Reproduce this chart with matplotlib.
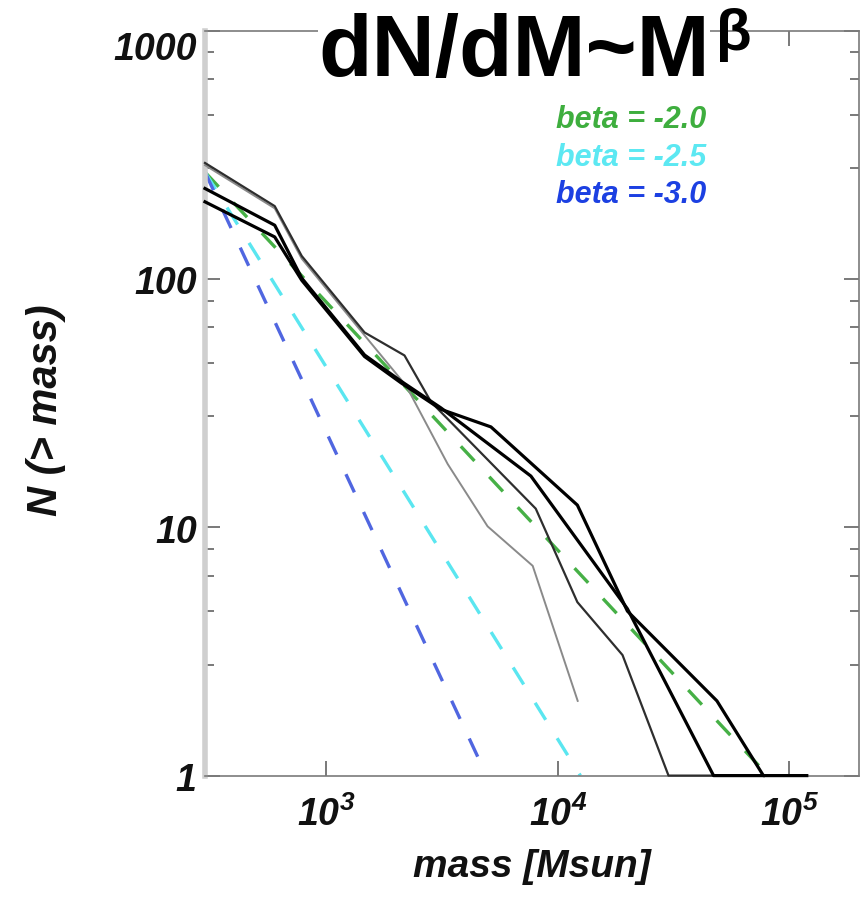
import matplotlib
matplotlib.use("Agg")
import matplotlib.pyplot as plt
from matplotlib.ticker import FixedLocator, NullLocator, NullFormatter

plt.rcParams['font.family'] = ['Liberation Sans', 'DejaVu Sans']
plt.rcParams['mathtext.fontset'] = 'custom'
plt.rcParams['mathtext.bf'] = 'Liberation Sans:italic:bold'
plt.rcParams['mathtext.rm'] = 'Liberation Sans:italic:bold'

# Cumulative clump mass functions N(>M), four samples
mass_a = [300, 600, 785, 1466, 2217, 3350, 4980, 7800, 12200]
count_a = [288, 193, 121, 59.4, 37.2, 18.0, 10.1, 7.0, 2.0]

mass_b = [300, 600, 785, 1466, 2180, 2840, 8040, 12160, 19050, 30100, 47100]
count_b = [294, 197, 124, 61.0, 49.3, 32.0, 11.9, 5.0, 3.06, 1.0, 1.0]

mass_c = [300, 600, 785, 1466, 2109, 3133, 7660, 20000, 47100, 77300]
count_c = [232, 165, 101, 49.5, 38.8, 30.3, 16.1, 4.7, 1.0, 1.0]

mass_d = [300, 600, 785, 1466, 2109, 3133, 5150, 12160, 20000, 48700, 77300, 119000]
count_d = [205, 148, 99, 48.8, 38.2, 29.9, 25.4, 12.3, 4.6, 2.0, 1.0, 1.0]

# Power-law reference slopes dN/dM ~ M^beta, normalised at the low-mass end
betas = [-2.0, -2.5, -3.0]
beta_labels = ["beta = -2.0", "beta = -2.5", "beta = -3.0"]
beta_colors = ["#46b046", "#5ae6f0", "#5066e0"]
beta_text_colors = ["#3eae3e", "#5ce8f2", "#1c40e2"]
norm_mass = 300.0
norm_count = 270.0

y_major = [1, 10, 100, 1000]
y_major_labels = ["1", "10", "100", "1000"]
x_major = [1e3, 1e4, 1e5]
x_major_labels = [r"$\mathbf{10^{3}}$", r"$\mathbf{10^{4}}$", r"$\mathbf{10^{5}}$"]
y_minor = [m * d for d in (1, 10, 100) for m in (2.8, 4.6, 6.4, 8.2)]

W, H = 863, 904
fig = plt.figure(figsize=(W / 100, H / 100), dpi=100)
ax = fig.add_axes([205 / W, 1 - 776.6 / H, (859 - 205) / W, (776.6 - 32) / H])
ax.set_xscale('log')
ax.set_yscale('log')
ax.set_xlim(300, 2e5)
ax.set_ylim(1, 1000)

# reference power laws
for beta, col in zip(betas, beta_colors):
    m_end = norm_mass * norm_count ** (-1.0 / (beta + 1.0))
    ax.plot([norm_mass, m_end], [norm_count, 1.0], color=col, lw=2.4,
            dashes=(6, 6.5), zorder=2)

# mass functions
ax.plot(mass_a, count_a, color='#8a8a8a', lw=1.4, zorder=3, clip_on=False)
ax.plot(mass_b, count_b, color='#2e2e2e', lw=1.6, zorder=3, clip_on=False)
ax.plot(mass_c, count_c, color='#000000', lw=2.3, zorder=4, clip_on=False)
ax.plot(mass_d, count_d, color='#000000', lw=2.3, zorder=4, clip_on=False)

# axes frame
for side in ('top', 'right', 'bottom'):
    ax.spines[side].set_color('#7a7a7a')
    ax.spines[side].set_linewidth(1.2)
ax.spines['left'].set_color('#cfcfcf')
ax.spines['left'].set_linewidth(4)

ax.xaxis.set_major_locator(FixedLocator(x_major))
ax.xaxis.set_minor_locator(NullLocator())
ax.yaxis.set_major_locator(FixedLocator(y_major))
ax.yaxis.set_minor_locator(FixedLocator(y_minor))
ax.xaxis.set_major_formatter(NullFormatter())
ax.yaxis.set_major_formatter(NullFormatter())
ax.yaxis.set_minor_formatter(NullFormatter())
ax.tick_params(which='both', direction='in', top=True, right=True,
               color='#555555', width=1.1)
ax.tick_params(which='major', length=10.5)
ax.tick_params(which='minor', length=6.5)

tick_font = dict(fontsize=27, fontweight='bold', fontstyle='italic', color='#111111')
for v, lab in zip(y_major, y_major_labels):
    top = (v == 1000)
    ax.annotate(lab, xy=(0, v), xycoords=('axes fraction', 'data'),
                xytext=(-6, 0 if top else -3), textcoords='offset points',
                ha='right', va='top' if top else 'center', **tick_font)
for v, lab in zip(x_major, x_major_labels):
    ax.annotate(lab, xy=(v, 0), xycoords=('data', 'axes fraction'),
                xytext=(0, -14), textcoords='offset points',
                ha='center', va='top', **tick_font)

label_font = dict(fontsize=28, fontweight='bold', fontstyle='italic', color='#111111')
fig.text(532 / W, 1 - 867 / H, "mass [Msun]", ha='center', va='center', **label_font)
fig.text(46 / W, 1 - 410 / H, "N (> mass)", rotation=90, ha='center', va='center',
         fontsize=30, fontweight='bold', fontstyle='italic', color='#111111')

# slope legend
for i, (lab, col) in enumerate(zip(beta_labels, beta_text_colors)):
    fig.text(556 / W, 1 - (128 + 37.5 * i) / H, lab, color=col, fontsize=22,
             fontweight='bold', fontstyle='italic', ha='left', va='baseline')

# headline formula
fig.text(318 / W, 1 - 76 / H, "dN/dM~M", fontsize=63, fontweight='bold',
         color='black', ha='left', va='baseline',
         bbox=dict(facecolor='white', edgecolor='none', pad=0), zorder=10)
fig.text(716 / W, 1 - 8 / H, "\u03b2", fontsize=42, fontweight='bold',
         color='black', ha='left', va='top', zorder=10)

fig.savefig("out.png", dpi=100)
